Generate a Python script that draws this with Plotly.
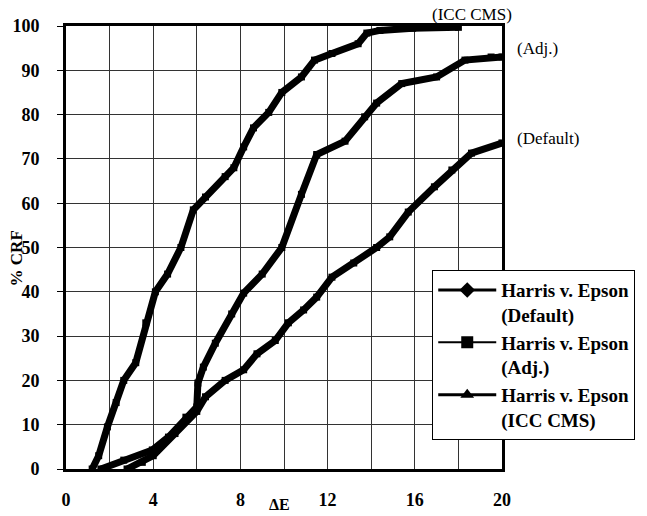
import plotly.graph_objects as go

# Data
icc_x = [1.2, 1.5, 1.9, 2.3, 2.65, 3.2, 3.66, 4.1, 4.66, 5.27, 5.84, 6.4, 7.3, 7.7, 8.15, 8.6, 9.3, 9.9, 10.8, 11.4, 12.2, 13.4, 13.8, 14.4, 15.9, 18.0]
icc_y = [0, 3, 9.5, 15, 20, 24, 33, 40, 44, 50, 58.5, 61.4, 66, 68, 72.7, 77, 80.5, 85, 88.5, 92.3, 93.8, 96, 98.4, 99, 99.5, 99.7]

adj_x = [1.6, 2.65, 3.96, 4.7, 5.5, 6.0, 6.05, 6.3, 6.85, 7.6, 8.15, 9.0, 9.9, 10.8, 11.5, 12.8, 13.7, 14.25, 15.4, 17.0, 18.3, 19.5, 20]
adj_y = [0, 2, 4.3, 7.2, 11.7, 14, 19.4, 23, 28.4, 35, 39.7, 44, 50, 62, 71, 74, 79.5, 82.6, 87, 88.5, 92.3, 93, 93]

def_x = [2.8, 3.5, 4.0, 5.0, 6.0, 6.4, 7.3, 8.15, 8.76, 9.6, 10.2, 10.9, 11.5, 12.2, 13.2, 14.25, 14.85, 15.7, 16.9, 17.7, 18.6, 20.0]
def_y = [0, 1.5, 3, 8, 13, 16.3, 20, 22.4, 26, 29, 33, 35.9, 38.8, 43.3, 46.5, 50, 52.4, 58, 63.7, 67.5, 71.3, 73.6]

legend_names = ["Harris v. Epson<br>(Default)", "Harris v. Epson<br>(Adj.)", "Harris v. Epson<br>(ICC CMS)"]
curve_labels = ["(Default)", "(Adj.)", "(ICC CMS)"]
x_title = "ΔE"
y_title = "% CRF"

FONT = "Liberation Serif"

fig = go.Figure()
for xs, ys in [(def_x, def_y), (adj_x, adj_y), (icc_x, icc_y)]:
    fig.add_trace(go.Scatter(x=xs, y=ys, mode="lines+markers",
                             line=dict(color="black", width=7),
                             marker=dict(symbol="square", size=7, color="black"),
                             showlegend=False, hoverinfo="skip"))

# legend-only traces
for name, sym, lw in zip(legend_names, ["diamond", "square", "triangle-up"], [3, 2, 3]):
    fig.add_trace(go.Scatter(x=[None], y=[None], mode="lines+markers", name=name,
                             line=dict(color="black", width=lw),
                             marker=dict(symbol=sym, size=12, color="black")))

axis_common = dict(showline=True, mirror=True, linecolor="black", linewidth=3,
                   showgrid=True, gridcolor="#333333", gridwidth=1, zeroline=False,
                   automargin=False,
                   tickfont=dict(family=FONT, size=18, color="black", weight="bold"))

fig.update_xaxes(range=[0, 20], tickvals=[0, 4, 8, 12, 16, 20],
                 ticks="", ticklabelstandoff=12,
                 minor=dict(dtick=2, showgrid=True, gridcolor="#333333", gridwidth=1),
                 **axis_common)
fig.update_yaxes(range=[0, 100], dtick=10, ticks="outside", ticklen=6, tickcolor="black",
                 ticklabelstandoff=14, **axis_common)

fig.add_annotation(x=-0.114, y=0.476, xref="paper", yref="paper", text=y_title, textangle=-90,
                   showarrow=False, xanchor="center", yanchor="middle",
                   font=dict(family=FONT, size=17, color="black", weight="bold"))
fig.add_annotation(x=0.49, y=-0.1016, xref="paper", yref="paper", text=x_title,
                   showarrow=False, xanchor="center", yanchor="bottom", borderpad=0,
                   font=dict(family=FONT, size=16, color="black", weight="bold"))

fig.add_annotation(x=0.932, y=1.0, xref="paper", yref="paper", text=curve_labels[2],
                   showarrow=False, xanchor="center", yanchor="bottom",
                   font=dict(family=FONT, size=17, color="black"))
fig.add_annotation(x=1.03, y=0.950, xref="paper", yref="paper", text=curve_labels[1],
                   showarrow=False, xanchor="left", yanchor="middle",
                   font=dict(family=FONT, size=17, color="black"))
fig.add_annotation(x=1.03, y=0.747, xref="paper", yref="paper", text=curve_labels[0],
                   showarrow=False, xanchor="left", yanchor="middle",
                   font=dict(family=FONT, size=17, color="black"))

fig.update_layout(
    width=647, height=516,
    margin=dict(l=66, r=124, t=26, b=47),
    paper_bgcolor="white", plot_bgcolor="white",
    legend=dict(x=0.84, y=0.449, xanchor="left", yanchor="top",
                bgcolor="white", bordercolor="black", borderwidth=1,
                font=dict(family=FONT, size=19, color="black", weight="bold"),
                itemwidth=58, valign="top"),
)

fig.write_html("out.html")
